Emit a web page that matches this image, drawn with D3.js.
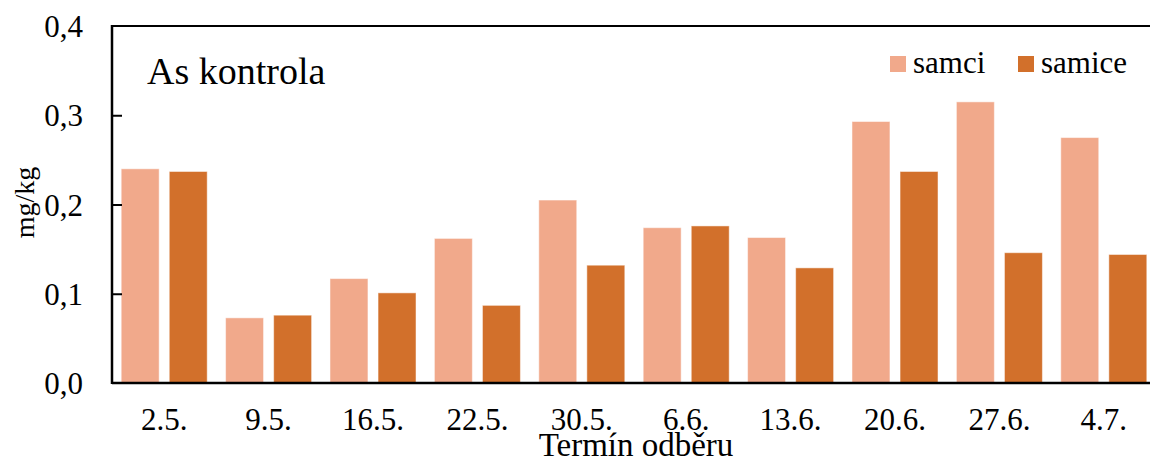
<!DOCTYPE html>
<html>
<head>
<meta charset="utf-8">
<script src="https://cdn.jsdelivr.net/npm/d3@7"></script>
<style>
  html, body { margin: 0; padding: 0; background: #fff; overflow: hidden; }
  svg text { font-family: "Liberation Serif", "Times New Roman", Times, serif; fill: #000; }
</style>
</head>
<body>
<div class="chart"></div>
<script>
var categories = ["2.5.", "9.5.", "16.5.", "22.5.", "30.5.", "6.6.", "13.6.", "20.6.", "27.6.", "4.7."];
var samci  = [0.240, 0.073, 0.117, 0.162, 0.205, 0.174, 0.163, 0.293, 0.315, 0.275];
var samice = [0.237, 0.076, 0.101, 0.087, 0.132, 0.176, 0.129, 0.237, 0.146, 0.144];
var seriesNames = ["samci", "samice"];
var yTicks = [0, 0.1, 0.2, 0.3, 0.4];

var colors = { samci: "#F1A98B", samice: "#D2702B" };

var svgWidth = 1150;
var svgHeight = 463;

var margin = { top: 26, right: -6, bottom: 80, left: 112 };
var width = svgWidth - margin.left - margin.right;
var height = svgHeight - margin.top - margin.bottom;

var svg = d3.select(".chart")
  .append("svg")
  .attr("width", svgWidth)
  .attr("height", svgHeight);

var chartGroup = svg.append("g")
  .attr("transform", `translate(${margin.left}, ${margin.top})`);

var data = categories.map(function(c, i) {
  return { cat: c, samci: samci[i], samice: samice[i] };
});

var x0 = d3.scaleBand()
  .domain(categories)
  .range([0, width])
  .paddingInner(0.176)
  .paddingOuter(0.088);

var x1 = d3.scaleBand()
  .domain(seriesNames)
  .range([0, x0.bandwidth()])
  .paddingInner(0.21);

var y = d3.scaleLinear()
  .domain([0, 0.4])
  .range([height, 0]);

// bars
var groups = chartGroup.selectAll(".grp")
  .data(data)
  .enter()
  .append("g")
  .attr("transform", d => `translate(${x0(d.cat)}, 0)`);

groups.selectAll("rect")
  .data(d => seriesNames.map(k => ({ key: k, value: d[k] })))
  .enter()
  .append("rect")
  .attr("x", d => x1(d.key))
  .attr("y", d => y(d.value))
  .attr("width", x1.bandwidth())
  .attr("height", d => height - y(d.value))
  .attr("fill", d => colors[d.key])
  .attr("stroke", "rgba(255,255,255,0.5)")
  .attr("stroke-width", 1);

// y axis, ticks inward
var leftAxis = d3.axisLeft(y)
  .tickValues(yTicks)
  .tickSize(-10)
  .tickPadding(29)
  .tickFormat(d => d3.format(".1f")(d).replace(".", ","));

var yAxisG = chartGroup.append("g").call(leftAxis)
  .attr("font-family", null);
yAxisG.select(".domain").remove();
yAxisG.selectAll(".tick line")
  .attr("stroke", "#000")
  .attr("stroke-width", 2)
  .filter(d => d === 0 || d === 0.4).remove();
yAxisG.selectAll(".tick text")
  .attr("font-size", "31px")
  .attr("dy", "0.34em");

// frame: left, top, bottom
chartGroup.append("line")
  .attr("x1", 0).attr("x2", 0)
  .attr("y1", -1).attr("y2", height + 1)
  .attr("stroke", "#000").attr("stroke-width", 2.5);
chartGroup.append("line")
  .attr("x1", 0).attr("x2", width)
  .attr("y1", 0).attr("y2", 0)
  .attr("stroke", "#000").attr("stroke-width", 2);
chartGroup.append("line")
  .attr("x1", 0).attr("x2", width)
  .attr("y1", height).attr("y2", height)
  .attr("stroke", "#000").attr("stroke-width", 2.5);

// x labels
var bottomAxis = d3.axisBottom(x0).tickSize(0).tickPadding(0);
var xAxisG = chartGroup.append("g")
  .attr("transform", `translate(0, ${height})`)
  .call(bottomAxis)
  .attr("font-family", null);
xAxisG.select(".domain").remove();
xAxisG.selectAll(".tick text")
  .attr("font-size", "31px")
  .attr("y", 47)
  .attr("dy", null);

// axis titles
chartGroup.append("text")
  .attr("x", width / 2 + 2)
  .attr("y", height + 73)
  .attr("text-anchor", "middle")
  .attr("font-size", "33px")
  .text("Termín odběru");

svg.append("text")
  .attr("transform", `translate(34, ${margin.top + height / 2 - 2}) rotate(-90)`)
  .attr("text-anchor", "middle")
  .attr("font-size", "28px")
  .text("mg/kg");

// chart title
chartGroup.append("text")
  .attr("x", 35)
  .attr("y", 58)
  .attr("font-size", "38px")
  .text("As kontrola");

// legend
var legendX = [890, 1018];
var legend = svg.selectAll(".legend")
  .data(seriesNames)
  .enter()
  .append("g")
  .attr("transform", (d, i) => `translate(${legendX[i]}, 56)`);

legend.append("rect")
  .attr("width", 16)
  .attr("height", 16)
  .attr("fill", d => colors[d]);

legend.append("text")
  .attr("x", 23)
  .attr("y", 17)
  .attr("font-size", "31px")
  .text(d => d);
</script>
</body>
</html>
